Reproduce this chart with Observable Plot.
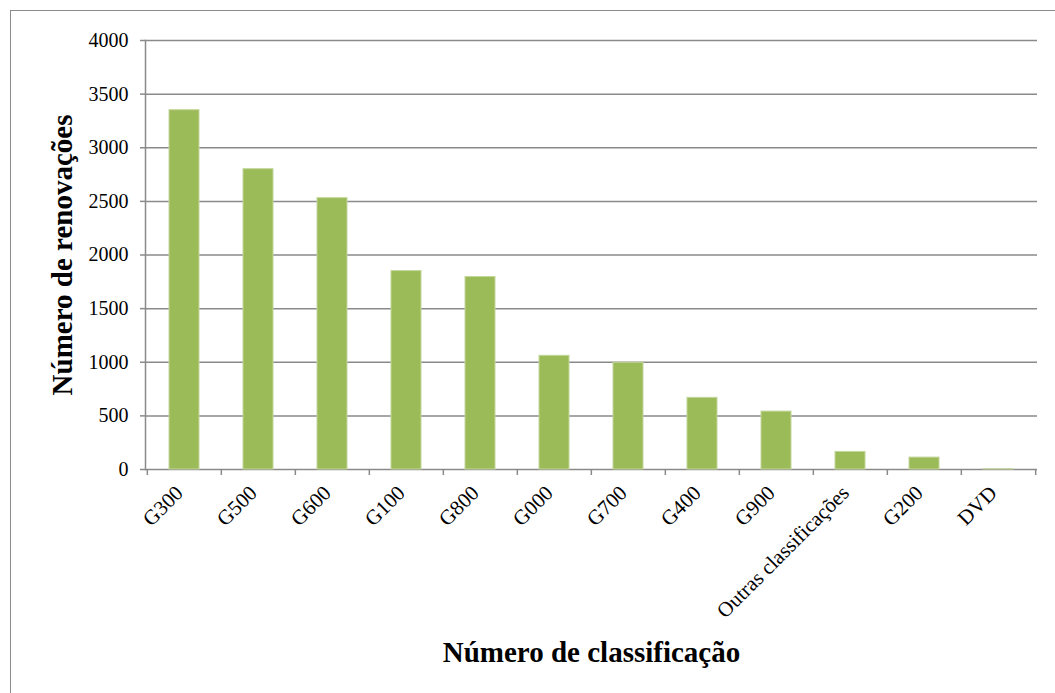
<!DOCTYPE html>
<html>
<head>
<meta charset="utf-8">
<script src="https://cdn.jsdelivr.net/npm/d3@7"></script>
<script src="https://cdn.jsdelivr.net/npm/@observablehq/plot@0.6"></script>
<style>
  html, body { margin: 0; padding: 0; background: #fff; overflow: hidden; }
  #wrap { position: relative; width: 1055px; height: 693px; }
  #border { position: absolute; left: 10px; top: 10px; width: 1060px; height: 700px;
            border: 1.5px solid #8c8c8c; box-sizing: border-box; pointer-events: none; }
  svg text { font-family: "Liberation Serif", "Times New Roman", serif; }
</style>
</head>
<body>
<div id="wrap"><div id="border"></div></div>
<script>
const categories = ["G300","G500","G600","G100","G800","G000","G700","G400","G900","Outras classificações","G200","DVD"];
const renewals = [3350, 2800, 2530, 1850, 1795, 1060, 995, 668, 540, 164, 111, 2];
const yTicks = [0, 500, 1000, 1500, 2000, 2500, 3000, 3500, 4000];
const yTitle = "Número de renovações";
const xTitle = "Número de classificação";

const data = categories.map((c, i) => ({category: c, value: renewals[i]}));

const W = 1055, H = 693;
const mL = 145, mR = 18, mT = 40, mB = 224;
const halfStep = (W - mL - mR) / categories.length / 2;
const grey = "#8a8a8a";
const serif = "Liberation Serif, Times New Roman, serif";

const chart = Plot.plot({
  width: W, height: H,
  marginLeft: mL, marginRight: mR, marginTop: mT, marginBottom: mB,
  style: {fontFamily: serif, background: "transparent", overflow: "visible"},
  x: {domain: categories, paddingInner: 0.6, paddingOuter: 0.3, axis: null},
  y: {domain: [0, 4000], axis: null},
  marks: [
    Plot.ruleY(yTicks, {stroke: grey, strokeWidth: 1.5}),
    Plot.axisY({ticks: yTicks, tickSize: 5, tickPadding: 12, fontSize: 20, fontFamily: serif, stroke: grey, strokeWidth: 1.5, color: "#000", label: null, tickFormat: d => String(d)}),
    Plot.frame({anchor: "left", stroke: grey, strokeWidth: 1.5}),
    Plot.barY(data, {x: "category", y: "value", fill: "#9bbb59", stroke: "#c3d69b", strokeWidth: 1}),
    Plot.ruleX(categories, {x: d => d, y1: 0, y2: 0, insetBottom: -6, dx: -halfStep, stroke: grey, strokeWidth: 1.5}),
    Plot.ruleX(categories.slice(-1), {x: d => d, y1: 0, y2: 0, insetBottom: -6, dx: halfStep, stroke: grey, strokeWidth: 1.5}),
    Plot.text(categories, {x: d => d, y: 0, text: d => d, rotate: -45, textAnchor: "end", lineAnchor: "middle", dx: -5, dy: 20, fontSize: 21, fontFamily: serif, fill: "#000"}),
    Plot.text([yTitle], {frameAnchor: "left", text: d => d, rotate: -90, dx: -83, fontSize: 29, fontFamily: serif, fontWeight: "bold", fill: "#000", textAnchor: "middle", lineAnchor: "middle"}),
    Plot.text([xTitle], {frameAnchor: "bottom", text: d => d, dy: 183, fontSize: 29, fontFamily: serif, fontWeight: "bold", fill: "#000", textAnchor: "middle", lineAnchor: "middle"})
  ]
});
document.getElementById("wrap").prepend(chart);
</script>
</body>
</html>
